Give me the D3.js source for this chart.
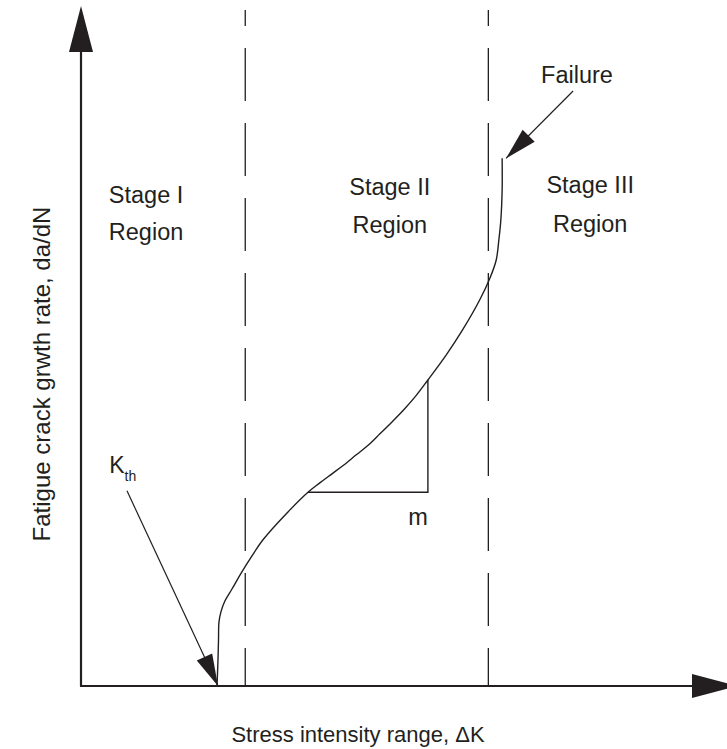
<!DOCTYPE html>
<html lang="en">
<head>
<meta charset="UTF-8">
<title>Fatigue crack growth stages</title>
<script src="https://d3js.org/d3.v7.min.js"></script>
<style>
  body { margin: 0; background: #fff; }
  svg text { font-family: "Liberation Sans", Arial, sans-serif; fill: #231f20; }
  .lbl { font-size: 23.5px; text-anchor: middle; }
</style>
</head>
<body>
<div id="chart"></div>
<script>
// schematic units: both axes run 0..100
const curvePts = [
  [20.70, 0], [20.85, 3.8], [20.93, 6.8], [21.0, 9.4], [21.3, 10.9], [21.9, 12.5],
  [23.0, 14.3], [24.7, 17.1], [27.7, 21.5], [31.8, 25.9], [34.55, 28.5],
  [36.4, 29.9], [38.2, 31.2], [40.0, 32.5], [41.9, 34.0], [43.7, 35.4],
  [45.5, 37.1], [47.3, 38.8], [49.2, 40.7], [51.0, 42.7], [52.8, 45.0],
  [55.6, 48.7], [58.1, 52.4], [60.7, 56.8], [62.25, 60.0], [63.2, 62.65],
  [63.6, 65.6], [63.9, 68.5], [64.1, 72.9], [64.1, 77.6]
];
const stageBounds = [25, 62];
const slopeTri = [[34.55, 28.5], [52.8, 28.5], [52.8, 45.0]];
const stageLabels = [
  {lines: ["Stage I", "Region"], x: 9.9, y: [71.0, 65.6]},
  {lines: ["Stage II", "Region"], x: 47.0, y: [72.2, 66.6]},
  {lines: ["Stage III", "Region"], x: 77.5, y: [72.5, 66.8]}
];
const failureArrow = [[74.9, 87.5], [64.7, 77.6]];
const kthArrow = [[7.0, 28.7], [20.85, 0]];
const failureLabel = {text: "Failure", x: 75.5, y: 88.7};
const kthLabel = {text: "K", sub: "th", x: 4.3, y: 31.3};
const slopeLabel = {text: "m", x: 51.3, y: 23.7};
const xTitle = "Stress intensity range, \u0394K";
const yTitle = "Fatigue crack grwth rate, da/dN";

const W = 727, H = 749;
const ink = "#231f20";

const svg = d3.select("#chart").append("svg")
  .attr("width", W).attr("height", H);

const x = d3.scaleLinear().domain([0, 100]).range([81, 738]);
const y = d3.scaleLinear().domain([0, 100]).range([686, 6]);

// arrowhead triangle pointing from a to b (pixel coords)
function head(a, b, len, half) {
  const dx = b[0] - a[0], dy = b[1] - a[1];
  const d = Math.hypot(dx, dy), ux = dx / d, uy = dy / d;
  const bx = b[0] - ux * len, by = b[1] - uy * len;
  return [[b[0], b[1]], [bx - uy * half, by + ux * half], [bx + uy * half, by - ux * half]];
}

// axes
svg.append("line")
  .attr("x1", x(0)).attr("y1", y(0)).attr("x2", x(0)).attr("y2", y(100) + 20)
  .attr("stroke", ink).attr("stroke-width", 2.2);
svg.append("line")
  .attr("x1", x(0) - 1).attr("y1", y(0)).attr("x2", x(100) - 20).attr("y2", y(0))
  .attr("stroke", ink).attr("stroke-width", 2.2);
svg.append("polygon")
  .attr("points", head([x(0), y(0)], [x(0), y(100)], 46, 12).join(" "))
  .attr("fill", ink);
svg.append("polygon")
  .attr("points", head([x(0), y(0)], [x(100), y(0)], 46, 12).join(" "))
  .attr("fill", ink);

// stage boundaries
svg.append("g").selectAll("line")
  .data(stageBounds)
  .join("line")
  .attr("x1", d => x(d)).attr("x2", d => x(d))
  .attr("y1", 10).attr("y2", y(0))
  .attr("stroke", ink).attr("stroke-width", 1.3)
  .attr("stroke-dasharray", "53,22").attr("stroke-dashoffset", 37);

// growth curve
const line = d3.line()
  .x(d => x(d[0])).y(d => y(d[1]))
  .curve(d3.curveCatmullRom.alpha(0.5));
svg.append("path")
  .datum(curvePts)
  .attr("d", line)
  .attr("fill", "none").attr("stroke", ink).attr("stroke-width", 1.4);

// slope triangle
svg.append("path")
  .datum(slopeTri)
  .attr("d", d3.line().x(d => x(d[0])).y(d => y(d[1])))
  .attr("fill", "none").attr("stroke", ink).attr("stroke-width", 1.4);

// arrows
[failureArrow, kthArrow].forEach(a => {
  const p0 = [x(a[0][0]), y(a[0][1])], p1 = [x(a[1][0]), y(a[1][1])];
  svg.append("line")
    .attr("x1", p0[0]).attr("y1", p0[1]).attr("x2", p1[0]).attr("y2", p1[1])
    .attr("stroke", ink).attr("stroke-width", 1.2);
  svg.append("polygon")
    .attr("points", head(p0, p1, 32, 8.5).join(" "))
    .attr("fill", ink);
});

// stage labels
stageLabels.forEach(s => {
  s.lines.forEach((t, i) => {
    svg.append("text").attr("class", "lbl")
      .attr("x", x(s.x)).attr("y", y(s.y[i]))
      .text(t);
  });
});

svg.append("text").attr("class", "lbl")
  .attr("x", x(failureLabel.x)).attr("y", y(failureLabel.y))
  .text(failureLabel.text);

svg.append("text").attr("class", "lbl")
  .attr("x", x(slopeLabel.x)).attr("y", y(slopeLabel.y))
  .text(slopeLabel.text);

const k = svg.append("text")
  .attr("x", x(kthLabel.x)).attr("y", y(kthLabel.y))
  .style("font-size", "23px");
k.append("tspan").text(kthLabel.text);
k.append("tspan").attr("dy", 8).style("font-size", "14px").text(kthLabel.sub);

// axis titles
svg.append("text").attr("class", "lbl")
  .style("font-size", "22px")
  .attr("x", 358).attr("y", 742)
  .text(xTitle);
svg.append("text").attr("class", "lbl")
  .style("font-size", "24px")
  .attr("transform", "translate(50,374) rotate(-90)")
  .text(yTitle);
</script>
</body>
</html>
